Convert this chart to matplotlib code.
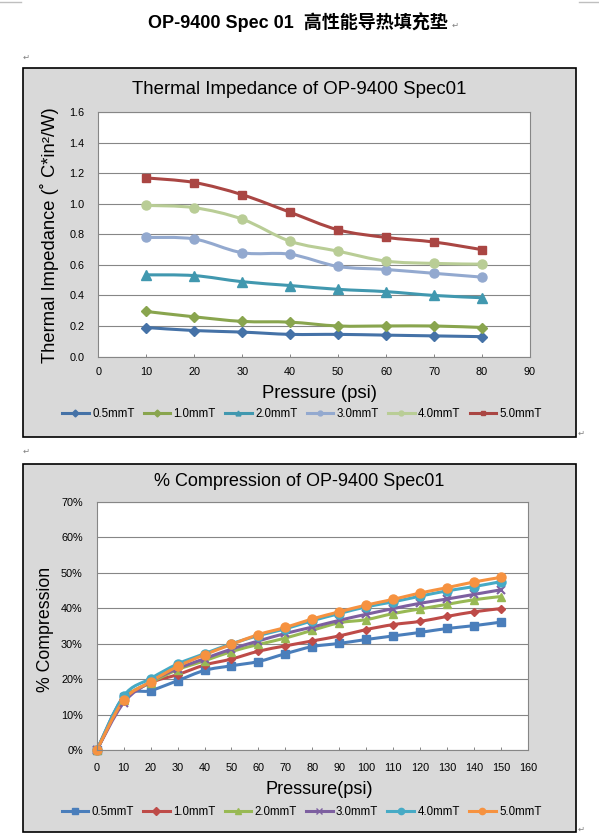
import numpy as np
import matplotlib
matplotlib.use("Agg")
import matplotlib.pyplot as plt
from matplotlib.patches import Rectangle, PathPatch
from matplotlib.path import Path
from matplotlib.lines import Line2D
from matplotlib.ticker import PercentFormatter, FormatStrFormatter

# ---- data: thermal impedance (deg C*in2/W) vs pressure (psi)
ti_pressure = [10, 20, 30, 40, 50, 60, 70, 80]
ti_05 = [0.19, 0.17, 0.16, 0.145, 0.145, 0.14, 0.135, 0.13]
ti_10 = [0.295, 0.26, 0.23, 0.225, 0.20, 0.20, 0.20, 0.19]
ti_20 = [0.535, 0.53, 0.49, 0.465, 0.44, 0.425, 0.40, 0.385]
ti_30 = [0.78, 0.77, 0.68, 0.67, 0.59, 0.57, 0.545, 0.52]
ti_40 = [0.99, 0.975, 0.90, 0.755, 0.69, 0.625, 0.61, 0.605]
ti_50 = [1.17, 1.14, 1.06, 0.945, 0.83, 0.78, 0.75, 0.70]

# ---- data: % compression vs pressure (psi)
cp_pressure = [0, 10, 20, 30, 40, 50, 60, 70, 80, 90, 100, 110, 120, 130, 140, 150]
cp_05 = [0, 15.0, 16.8, 19.6, 22.5, 23.8, 25.0, 27.2, 29.2, 30.1, 31.2, 32.2, 33.2, 34.3, 35.1, 36.1]
cp_10 = [0, 14.0, 19.0, 21.3, 24.0, 25.7, 27.9, 29.4, 30.8, 32.2, 34.0, 35.4, 36.3, 37.7, 39.0, 39.9]
cp_20 = [0, 14.3, 19.0, 22.7, 25.2, 27.8, 29.8, 31.6, 33.8, 35.9, 36.8, 38.5, 39.8, 41.1, 42.4, 43.3]
cp_30 = [0, 13.4, 19.3, 23.0, 25.8, 28.5, 30.8, 32.9, 34.7, 36.6, 38.3, 39.9, 41.4, 42.6, 43.9, 45.2]
cp_40 = [0, 15.3, 20.2, 24.3, 27.2, 30.0, 32.3, 34.2, 36.5, 38.5, 40.4, 41.8, 43.4, 44.9, 46.1, 47.5]
cp_50 = [0, 14.1, 19.3, 23.6, 26.9, 29.8, 32.6, 34.6, 37.0, 39.0, 40.9, 42.5, 44.3, 45.8, 47.4, 48.7]

labels = ["0.5mmT", "1.0mmT", "2.0mmT", "3.0mmT", "4.0mmT", "5.0mmT"]

ti_series = [ti_05, ti_10, ti_20, ti_30, ti_40, ti_50]
ti_colors = ["#4572A7", "#89A54E", "#4198AF", "#93A9CF", "#B9CD96", "#AA4643"]
ti_markers = ["D", "D", "^", "o", "o", "s"]
ti_msizes = [5.0, 5.0, 6.5, 6.5, 6.5, 6.0]

cp_series = [cp_05, cp_10, cp_20, cp_30, cp_40, cp_50]
cp_colors = ["#4A7EBB", "#BE4B48", "#98B954", "#7D5FA0", "#46AAC5", "#F69240"]
cp_markers = ["s", "D", "^", "x", "o", "o"]
cp_msizes = [6.0, 4.5, 6.0, 6.0, 6.5, 6.5]

W, H = 599, 840
FONT = ["Liberation Sans", "DejaVu Sans"]
plt.rcParams["font.family"] = FONT


def fx(x):
    return x / W


def fy(y):
    return 1 - y / H


def smooth_path(xs, ys):
    """Bezier path through the points, like Excel's smoothed line."""
    pts = np.column_stack([xs, ys]).astype(float)
    n = len(pts)
    verts = [pts[0]]
    codes = [Path.MOVETO]
    for i in range(n - 1):
        p0 = pts[i - 1] if i > 0 else pts[i]
        p1, p2 = pts[i], pts[i + 1]
        p3 = pts[i + 2] if i + 2 < n else pts[i + 1]
        verts += [p1 + (p2 - p0) / 6, p2 - (p3 - p1) / 6, p2]
        codes += [Path.CURVE4] * 3
    return Path(verts, codes)


def add_axes_px(fig, x0, y0, x1, y1):
    return fig.add_axes([fx(x0), fy(y1), (x1 - x0) / W, (y1 - y0) / H])


def style_axes(ax, xpad):
    ax.set_facecolor("white")
    for sp in ax.spines.values():
        sp.set_color("#868686")
        sp.set_linewidth(0.8)
    ax.grid(axis="y", color="#868686", linewidth=0.8)
    ax.set_axisbelow(True)
    ax.tick_params(axis="x", direction="in", length=2.5, width=0.7, color="#868686",
                   labelsize=7.8, pad=xpad)
    ax.tick_params(axis="y", length=0, labelsize=7.8, pad=10)


fig = plt.figure(figsize=(W / 100, H / 100), dpi=100)

# page decorations (Word page marks)
fig.add_artist(Line2D([0, fx(21)], [fy(2), fy(2)], color="#BFBFBF", lw=1))
fig.add_artist(Line2D([fx(579), 1], [fy(2), fy(2)], color="#BFBFBF", lw=1))
fig.text(fx(298), fy(22), "OP-9400 Spec 01  高性能导热填充垫", ha="center", va="center",
         fontsize=13.0, fontweight="bold", family=["Liberation Sans", "Noto Sans CJK SC"])
for px, py in [(455, 25), (26, 57), (581, 433), (26, 451), (581, 829)]:
    fig.text(fx(px), fy(py), "\u21b5", fontsize=6, color="#808080", ha="center",
             va="center", family=["DejaVu Sans"])

# chart boxes
for top, bottom in [(68, 437), (463.5, 832)]:
    fig.add_artist(Rectangle((fx(23), fy(bottom)), (576 - 23) / W, (bottom - top) / H,
                             transform=fig.transFigure, facecolor="#D9D9D9",
                             edgecolor="black", linewidth=1.2, zorder=0))

# ---- chart 1: thermal impedance
ax1 = add_axes_px(fig, 98.3, 112.3, 530, 356.5)
style_axes(ax1, 7.5)
ax1.set_xlim(0, 90)
ax1.set_ylim(0, 1.6)
ax1.set_xticks(range(0, 100, 10))
ax1.set_yticks(np.arange(0, 1.61, 0.2))
ax1.yaxis.set_major_formatter(FormatStrFormatter("%.1f"))
handles1 = []
for ys, c, m, ms, lab in zip(ti_series, ti_colors, ti_markers, ti_msizes, labels):
    ax1.add_patch(PathPatch(smooth_path(ti_pressure, ys), fill=False, edgecolor=c,
                            linewidth=2.2, capstyle="round", joinstyle="round"))
    ax1.plot(ti_pressure, ys, linestyle="none", marker=m, markersize=ms, color=c,
             markeredgecolor=c)
    handles1.append(Line2D([], [], color=c, lw=2.2, marker=m, markersize=3.5, label=lab))

fig.text(fx(299.5), fy(90), "Thermal Impedance of OP-9400 Spec01", ha="center",
         va="center", fontsize=13.4)
fig.text(fx(50), fy(235), "Thermal Impedance (\u02da C*in\u00b2/W)", ha="center",
         va="center", rotation=90, fontsize=13.2)
fig.text(fx(320), fy(394), "Pressure (psi)", ha="center", va="center", fontsize=13.3)
fig.legend(handles=handles1, loc="center", bbox_to_anchor=(fx(302), fy(414)), ncol=6,
           frameon=False, fontsize=8.3, handlelength=2.3, handletextpad=0.3,
           columnspacing=0.8)

# ---- chart 2: % compression
ax2 = add_axes_px(fig, 96.7, 501.7, 528, 750.3)
style_axes(ax2, 9.5)
ax2.set_xlim(0, 160)
ax2.set_ylim(0, 70)
ax2.set_xticks(range(0, 170, 10))
ax2.set_yticks(range(0, 80, 10))
ax2.yaxis.set_major_formatter(PercentFormatter(100, decimals=0))
handles2 = []
for ys, c, m, ms, lab in zip(cp_series, cp_colors, cp_markers, cp_msizes, labels):
    ax2.add_patch(PathPatch(smooth_path(cp_pressure, ys), fill=False, edgecolor=c,
                            linewidth=2.2, capstyle="round", joinstyle="round"))
    ax2.plot(cp_pressure, ys, linestyle="none", marker=m, markersize=ms, color=c,
             markeredgecolor=c, markeredgewidth=1.5 if m == "x" else 1.0, clip_on=False)
    handles2.append(Line2D([], [], color=c, lw=2.2, marker=m, markersize=4.5, label=lab))

fig.text(fx(299), fy(482), "% Compression of OP-9400 Spec01", ha="center", va="center",
         fontsize=13.0)
fig.text(fx(45), fy(629), "% Compression", ha="center", va="center", rotation=90,
         fontsize=12.8)
fig.text(fx(319), fy(790), "Pressure(psi)", ha="center", va="center", fontsize=13.1)
fig.legend(handles=handles2, loc="center", bbox_to_anchor=(fx(301.5), fy(812)), ncol=6,
           frameon=False, fontsize=8.3, handlelength=2.3, handletextpad=0.3,
           columnspacing=0.8)

fig.savefig("out.png", dpi=100)
